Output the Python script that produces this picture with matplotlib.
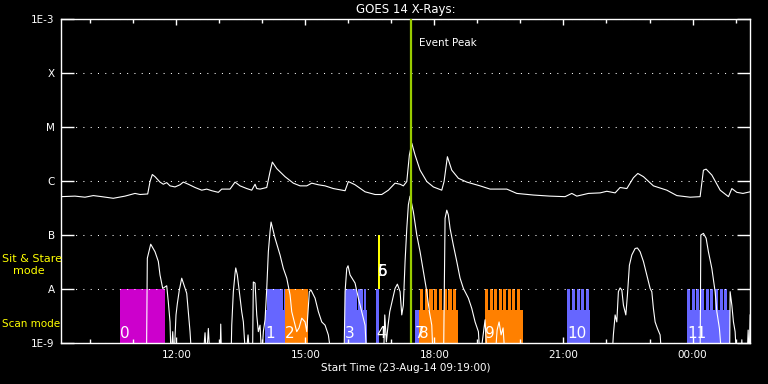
import numpy as np
import matplotlib
matplotlib.use("Agg")
import matplotlib.pyplot as plt
from matplotlib.ticker import FixedLocator, NullLocator

# ---------------- data ----------------
# time in hours since start (23-Aug-14 09:19:00)
title = "GOES 14 X-Rays:"
xlabel = "Start Time (23-Aug-14 09:19:00)"
t_max = 16.02
start_hour = 9 + 19 / 60.0
tick_clock = [12, 15, 18, 21, 24]
tick_labels = ["12:00", "15:00", "18:00", "21:00", "00:00"]
minor_clock = list(range(10, 26))

y_ticks = [1e-9, 1e-8, 1e-7, 1e-6, 1e-5, 1e-4, 1e-3]
y_tick_labels = ["1E-9", "A", "B", "C", "M", "X", "1E-3"]

# GOES long channel (1-8 A), log10 flux
long_t = [0.00, 0.326, 0.558, 0.751, 0.947, 1.216, 1.488, 1.721, 1.837, 2.016,
          2.070, 2.123, 2.186, 2.302, 2.379, 2.458, 2.535, 2.651, 2.767, 2.844,
          2.960, 3.116, 3.272, 3.388, 3.505, 3.658, 3.737, 3.930, 4.047, 4.163,
          4.319, 4.435, 4.512, 4.551, 4.628, 4.784, 4.860, 4.914, 5.016, 5.209,
          5.402, 5.558, 5.714, 5.830, 5.984, 6.140, 6.333, 6.605, 6.681, 6.837,
          7.070, 7.302, 7.458, 7.612, 7.767, 7.884, 7.960, 8.040, 8.100, 8.156,
          8.233, 8.349, 8.505, 8.658, 8.853, 8.907, 8.984, 9.086, 9.240, 9.435,
          9.744, 9.977, 10.209, 10.365, 10.598, 10.984, 11.372, 11.721, 11.877, 11.993,
          12.263, 12.535, 12.691, 12.884, 13.000, 13.156, 13.309, 13.412, 13.542, 13.774,
          14.086, 14.319, 14.628, 14.860, 14.937, 15.000, 15.133, 15.326, 15.519, 15.598,
          15.714, 15.856, 16.023]
long_log = [-6.29, -6.28, -6.30, -6.27, -6.29, -6.32, -6.28, -6.23, -6.25, -6.24,
            -6.01, -5.88, -5.92, -6.02, -6.06, -6.03, -6.09, -6.11, -6.07, -6.02,
            -6.06, -6.12, -6.17, -6.15, -6.18, -6.21, -6.15, -6.15, -6.02, -6.09,
            -6.14, -6.17, -6.06, -6.14, -6.15, -6.12, -5.83, -5.65, -5.77, -5.92,
            -6.04, -6.09, -6.09, -6.04, -6.07, -6.09, -6.14, -6.18, -6.01, -6.07,
            -6.20, -6.25, -6.25, -6.17, -6.04, -6.06, -6.09, -6.01, -5.52, -5.30,
            -5.52, -5.80, -6.01, -6.11, -6.17, -6.01, -5.55, -5.80, -5.95, -6.02,
            -6.09, -6.15, -6.15, -6.15, -6.23, -6.26, -6.28, -6.29, -6.23, -6.28,
            -6.23, -6.22, -6.19, -6.22, -6.12, -6.14, -5.94, -5.86, -5.92, -6.09,
            -6.17, -6.27, -6.30, -6.29, -5.80, -5.78, -5.89, -6.17, -6.29, -6.14,
            -6.21, -6.23, -6.20]

# GOES short channel (0.5-4 A), (hours, log10 flux); -9.3 = below plot range
short_points = [
    (0.00, -9.3), (1.988, -9.3), (2.007, -7.43), (2.086, -7.17), (2.186, -7.31), (2.263, -7.49),
    (2.302, -7.74), (2.365, -7.99), (2.419, -7.96), (2.458, -7.94), (2.495, -8.24), (2.535, -8.61),
    (2.558, -9.3), (2.598, -8.79), (2.628, -9.3), (2.674, -8.48), (2.705, -8.27), (2.751, -8.02),
    (2.807, -7.80), (2.860, -7.93), (2.923, -8.08), (2.960, -8.42), (3.000, -8.79), (3.040, -9.3),
    (3.302, -9.3), (3.349, -8.81), (3.384, -9.3), (3.426, -8.73), (3.465, -9.3), (3.698, -9.3),
    (3.714, -8.65), (3.733, -9.3), (3.953, -9.3), (3.970, -8.67), (4.007, -8.05), (4.047, -7.71),
    (4.063, -7.61), (4.100, -7.74), (4.147, -8.05), (4.202, -8.42), (4.240, -8.61), (4.295, -9.3),
    (4.349, -8.85), (4.395, -9.3), (4.453, -9.3), (4.472, -7.87), (4.512, -7.89), (4.551, -8.48),
    (4.588, -8.79), (4.628, -8.67), (4.667, -9.3), (4.705, -8.79), (4.744, -8.57), (4.784, -7.99),
    (4.821, -7.31), (4.860, -6.94), (4.884, -6.76), (4.977, -7.06), (5.093, -7.37), (5.170, -7.62),
    (5.249, -7.80), (5.326, -8.11), (5.365, -8.42), (5.442, -8.67), (5.481, -8.79), (5.535, -8.72),
    (5.598, -8.54), (5.674, -8.61), (5.714, -8.79), (5.774, -8.05), (5.814, -8.02), (5.907, -8.17),
    (5.984, -8.42), (6.063, -8.61), (6.140, -8.67), (6.216, -8.85), (6.295, -9.3), (6.581, -9.3),
    (6.605, -8.05), (6.644, -7.62), (6.674, -7.57), (6.721, -7.74), (6.837, -7.89), (6.914, -8.17),
    (6.993, -8.42), (7.070, -8.67), (7.109, -9.3), (7.50, -9.3), (7.528, -8.48), (7.565, -8.98),
    (7.605, -8.67), (7.644, -8.42), (7.767, -7.99), (7.821, -7.91), (7.884, -8.05), (7.923, -8.48),
    (7.960, -8.30), (8.000, -7.49), (8.040, -6.88), (8.077, -6.44), (8.116, -6.28), (8.193, -6.57),
    (8.272, -7.00), (8.349, -7.31), (8.426, -7.68), (8.505, -8.05), (8.565, -8.42), (8.621, -8.67),
    (8.651, -9.3), (8.895, -9.3), (8.930, -6.69), (8.970, -6.54), (9.007, -6.63), (9.047, -6.88),
    (9.123, -7.19), (9.202, -7.49), (9.279, -7.80), (9.356, -7.99), (9.472, -8.17), (9.551, -8.36),
    (9.628, -8.61), (9.705, -8.79), (9.744, -9.3), (9.814, -8.85), (9.860, -8.57), (9.907, -9.3),
    (10.093, -9.3), (10.140, -8.76), (10.186, -8.61), (10.233, -8.85), (10.279, -8.72), (10.326, -9.3),
    (12.81, -9.3), (12.843, -8.85), (12.884, -8.48),
    (12.923, -8.61), (12.960, -8.05), (13.000, -7.98), (13.040, -8.02), (13.077, -8.30), (13.133, -8.48),
    (13.170, -8.11), (13.216, -7.56), (13.272, -7.37), (13.349, -7.25), (13.402, -7.24), (13.465, -7.31),
    (13.542, -7.49), (13.621, -7.74), (13.698, -7.99), (13.737, -8.05), (13.774, -8.36), (13.814, -8.61),
    (13.867, -8.73), (13.930, -8.85), (13.970, -9.3), (14.860, -9.3), (14.877, -7.00), (14.937, -6.97),
    (15.000, -7.06), (15.053, -7.31), (15.133, -7.62), (15.209, -8.05), (15.249, -8.42), (15.309, -8.73),
    (15.365, -9.3), (15.547, -9.3), (15.558, -8.05), (15.598, -8.30), (15.635, -8.61), (15.674, -8.79),
    (15.709, -9.3), (15.814, -9.3), (15.830, -8.94), (15.849, -9.3), (15.953, -9.3), (15.977, -8.76),
    (16.000, -9.3), (16.023, -8.48),
]

event_peak_t = 8.13
event_label = "Event Peak"

# observation blocks
block_labels = ["0", "1", "2", "3", "4", "5", "6", "7", "8", "9", "10", "11"]
block_start = [1.372, 4.744, 5.209, 6.605, 7.326, 7.372, 7.372, 8.233, 8.333, 9.861, 11.767, 14.551]
block_end = [2.412, 5.209, 5.751, 7.109, 7.395, 7.426, 7.426, 8.333, 9.233, 10.737, 12.302, 15.558]
block_mode = ["scan", "scan", "scan", "scan", "scan", "sit", "sit", "scan", "scan", "scan", "scan", "scan"]
block_color = ["#cc00cc", "#6666ff", "#ff8000", "#6666ff", "#6666ff", "#ffff00", "#ffff00",
               "#6666ff", "#ff8000", "#ff8000", "#6666ff", "#6666ff"]

# upper raster segments (start, end) of scan blocks
raster_segments = {
    "0": [(1.372, 2.412)],
    "1": [(4.784, 5.035), (5.053, 5.170), (5.193, 5.209)],
    "2": [(5.209, 5.751)],
    "3": [(6.605, 6.872), (6.895, 7.012), (7.035, 7.093)],
    "4": [(7.326, 7.395)],
    "7": [],
    "8": [(s, s + 0.075) for s in [8.349, 8.458, 8.567, 8.677, 8.786, 8.895, 9.005, 9.114]],
    "9": [(s, s + 0.072) for s in [9.861, 9.977, 10.077, 10.186, 10.279, 10.388, 10.495, 10.605]],
    "10": [(s, s + 0.066) for s in [11.767, 11.884, 11.993, 12.093, 12.209]],
    "11": [(s, s + 0.077) for s in [14.551, 14.660, 14.767, 14.877, 14.986, 15.093, 15.202, 15.312, 15.419]],
}

# ---------------- plot ----------------
W, H = 768, 384
fig = plt.figure(figsize=(W / 100, H / 100), dpi=100, facecolor="black")
ax_l, ax_r, ax_t, ax_b = 61, 750, 19, 343
ax = fig.add_axes([ax_l / W, 1 - ax_b / H, (ax_r - ax_l) / W, (ax_b - ax_t) / H])
ax.set_facecolor("black")
ax.set_yscale("log")
ax.set_xlim(0, t_max)
ax.set_ylim(1e-9, 1e-3)

y_bot, y_mid, y_A, y_B = 1e-9, 10 ** -8.39, 1e-8, 1e-7

for lab, s, e, mode, col in zip(block_labels, block_start, block_end, block_mode, block_color):
    if mode == "sit":
        ax.bar(s, y_B - y_A, width=e - s, bottom=y_A, align="edge", color=col,
               linewidth=0, antialiased=False, zorder=1)
        ax.text(s, 10 ** -7.685, lab, color="white", fontsize=11, ha="left", va="center", zorder=4)
    else:
        ax.bar(s, y_mid - y_bot, width=e - s, bottom=y_bot, align="edge", color=col,
               linewidth=0, antialiased=False, zorder=1)
        for rs, re in raster_segments[lab]:
            ax.bar(rs, y_A - y_mid, width=re - rs, bottom=y_mid, align="edge", color=col,
                   linewidth=0, antialiased=False, zorder=1)
        ax.text(s, 10 ** -8.82, lab, color="white", fontsize=11, ha="left", va="center", zorder=4)

# curves
ax.plot(long_t, 10 ** np.array(long_log), color="white", lw=0.8, zorder=3)
st, sl = zip(*short_points)
ax.plot(st, 10 ** np.array(sl), color="white", lw=0.8, zorder=3)

# event peak
ax.axvline(event_peak_t, color="#99cc00", lw=1.6, zorder=5)
ax.text(event_peak_t + 0.2, 10 ** -3.45, event_label, color="white", fontsize=7.5,
        ha="left", va="center", zorder=5)

# grid
ax.grid(axis="y", which="major", color="white", linestyle=(0, (1, 6)), lw=0.75, zorder=2)
ax.set_axisbelow(False)

# ticks
ax.yaxis.set_major_locator(FixedLocator(y_ticks))
ax.yaxis.set_minor_locator(NullLocator())
ax.set_yticklabels(y_tick_labels)
ax.set_xticks([c - start_hour for c in tick_clock])
ax.set_xticklabels(tick_labels)
ax.set_xticks([c - start_hour for c in minor_clock if c - start_hour <= t_max], minor=True)
ax.tick_params(axis="y", which="major", direction="in", length=9.5, width=1.0, color="white",
               labelcolor="white", labelsize=7.5, left=True, right=True, pad=4.5)
ax.tick_params(axis="x", which="major", direction="in", length=4.5, width=1.0, color="white",
               labelcolor="white", labelsize=7.5, top=True, bottom=True, pad=5)
ax.tick_params(axis="x", which="minor", direction="in", length=3, width=1.0, color="white",
               top=True, bottom=True)
for sp in ax.spines.values():
    sp.set_color("white")
    sp.set_linewidth(1.0)

# titles
ax.text(0.5, 1 + (ax_t - 9.5) / (ax_b - ax_t), title, transform=ax.transAxes, color="white",
        fontsize=8.5, ha="center", va="center")
ax.set_xlabel(xlabel, color="white", fontsize=7.5, va="center")
ax.xaxis.set_label_coords(0.5, -(368 - ax_b) / (ax_b - ax_t))

# mode labels
fig.text(2 / W, 1 - 259 / H, "Sit & Stare", color="#ffff00", fontsize=8, ha="left", va="center")
fig.text(13 / W, 1 - 271 / H, "mode", color="#ffff00", fontsize=8, ha="left", va="center")
fig.text(2 / W, 1 - 324 / H, "Scan mode", color="#ffff00", fontsize=7.5, ha="left", va="center")

fig.savefig("out.png", dpi=100, facecolor="black")
